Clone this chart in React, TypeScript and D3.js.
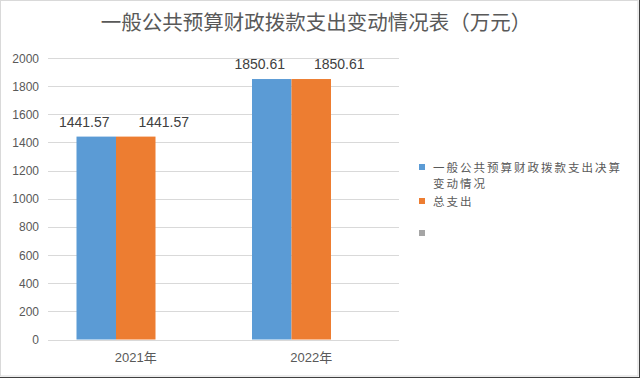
import React from "react";
import * as d3 from "d3";

const categories = ["2021年", "2022年"];
const seriesNames = ["一般公共预算财政拨款支出决算变动情况", "总支出", ""];
const seriesColors = ["#5b9bd5", "#ed7d31", "#a5a5a5"];
const series1 = [1441.57, 1850.61];
const series2 = [1441.57, 1850.61];
const series3: (number | null)[] = [null, null];
const yTicks = [0, 200, 400, 600, 800, 1000, 1200, 1400, 1600, 1800, 2000];
const title = "一般公共预算财政拨款支出变动情况表（万元）";

const W = 640;
const H = 378;
const plot = { left: 48, right: 399, top: 58, bottom: 339.5 };
const labelDx = [-12, 28, 0];

function wrap(text: string, n: number): string[] {
  const out: string[] = [];
  for (let i = 0; i < text.length; i += n) out.push(text.slice(i, i + n));
  return out.length ? out : [""];
}

export default function App() {
  const allSeries = [series1, series2, series3];
  const x = d3.scaleBand<string>().domain(categories).range([plot.left, plot.right]).padding(0);
  const y = d3.scaleLinear().domain([0, 2000]).range([plot.bottom, plot.top]);
  const barW = 39.5;
  const groupW = barW * allSeries.length;
  const inner = d3
    .scaleBand<number>()
    .domain(d3.range(allSeries.length))
    .range([0, groupW])
    .padding(0);
  const numFont = "'Liberation Sans', Arial, sans-serif";
  const cjkFont = "'Noto Sans CJK SC', 'Liberation Sans', sans-serif";
  const textColor = "#595959";

  const lineH = 16;
  let legendY = 164;
  const legendItems = seriesNames.map((name, i) => {
    const lines = wrap(name, 14);
    const item = { i, name, lines, y: legendY };
    legendY += i === 1 ? 32 : (lines.length - 1) * lineH + 18;
    return item;
  });

  return (
    <svg
      width={W}
      height={H}
      style={{ position: "absolute", left: 0, top: 0, background: "#fff" }}
    >
      <rect x={0} y={0} width={W} height={H} fill="#fff" />
      <rect x={0.5} y={0.5} width={637.5} height={375.5} fill="none" stroke="#d9d9d9" />
      <line x1={639.5} y1={0} x2={639.5} y2={H} stroke="#404040" />
      <line x1={0} y1={377.5} x2={W} y2={377.5} stroke="#404040" />

      <text
        x={316}
        y={30}
        textAnchor="middle"
        fontFamily={cjkFont}
        fontSize={20.5}
        fill={textColor}
      >
        {title}
      </text>

      {yTicks.map((t) => (
        <g key={t}>
          <line
            x1={plot.left}
            x2={plot.right}
            y1={Math.round(y(t)) + 0.5}
            y2={Math.round(y(t)) + 0.5}
            stroke="#d9d9d9"
            strokeWidth={1}
          />
          <text
            x={39}
            y={y(t) + 4.5}
            textAnchor="end"
            fontFamily={numFont}
            fontSize={12}
            fill={textColor}
          >
            {t}
          </text>
        </g>
      ))}

      {categories.map((c, ci) => {
        const gx = (x(c) as number) + x.bandwidth() / 2 - groupW / 2;
        return (
          <g key={c}>
            {allSeries.map((s, si) => {
              const v = s[ci];
              if (v == null) return null;
              const bx = gx + (inner(si) as number);
              return (
                <rect
                  key={si}
                  x={bx}
                  y={y(v)}
                  width={inner.bandwidth()}
                  height={y(0) - y(v)}
                  fill={seriesColors[si]}
                />
              );
            })}
            {allSeries.map((s, si) => {
              const v = s[ci];
              if (v == null) return null;
              const bx = gx + (inner(si) as number) + inner.bandwidth() / 2;
              return (
                <text
                  key={"l" + si}
                  x={bx + labelDx[si]}
                  y={y(v) - 10}
                  textAnchor="middle"
                  fontFamily={numFont}
                  fontSize={14}
                  fill="#404040"
                >
                  {v.toFixed(2)}
                </text>
              );
            })}
            <text
              x={(x(c) as number) + x.bandwidth() / 2}
              y={362}
              textAnchor="middle"
              fontFamily={numFont}
              fontSize={13}
              fill={textColor}
            >
              {c.replace("年", "")}
              <tspan fontFamily={cjkFont}>年</tspan>
            </text>
          </g>
        );
      })}

      {legendItems.map((it) => (
        <g key={it.i}>
          <rect x={419} y={it.y} width={6} height={6} fill={seriesColors[it.i]} />
          {it.name &&
            it.lines.map((ln, li) => (
              <text
                key={li}
                x={433}
                y={it.y + 7.5 + li * lineH}
                fontFamily={cjkFont}
                fontSize={11.5}
                letterSpacing={2}
                fill={textColor}
              >
                {ln}
              </text>
            ))}
        </g>
      ))}
    </svg>
  );
}
